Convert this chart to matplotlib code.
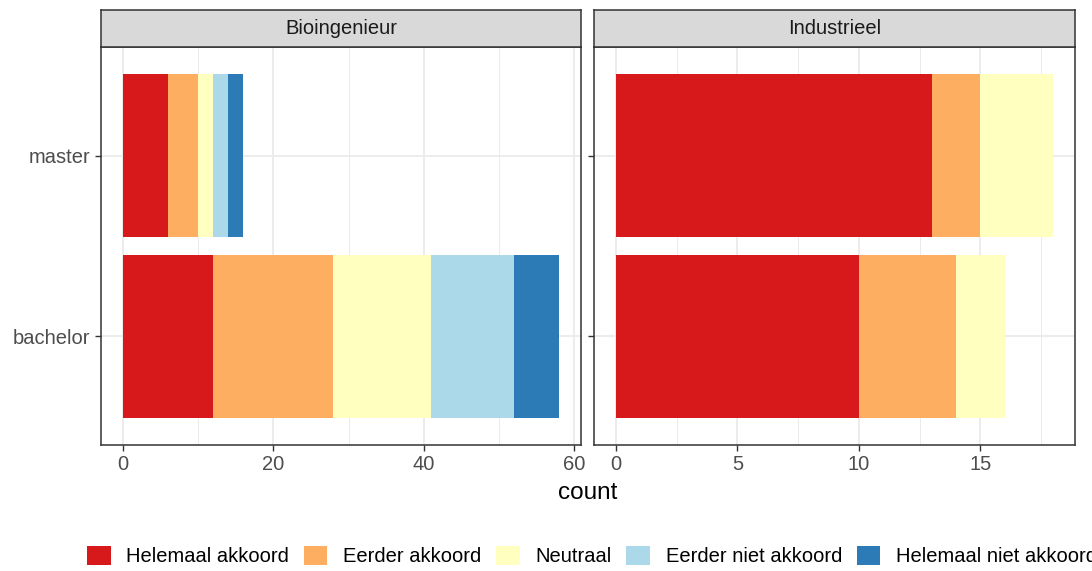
import numpy as np
import matplotlib.pyplot as plt
from matplotlib.patches import Patch

plt.rcParams['font.family'] = ['Liberation Sans', 'DejaVu Sans']

# data
levels = ['bachelor', 'master']
answers = ['Helemaal akkoord', 'Eerder akkoord', 'Neutraal',
           'Eerder niet akkoord', 'Helemaal niet akkoord']
colors = ['#D7191C', '#FDAE61', '#FFFFBF', '#ABD9E9', '#2C7BB6']

bio_bachelor = [12, 16, 13, 11, 6]
bio_master = [6, 4, 2, 2, 2]
ind_bachelor = [10, 4, 2, 0, 0]
ind_master = [13, 2, 3, 0, 0]

panels = [
    ('Bioingenieur', [bio_bachelor, bio_master], [0, 20, 40, 60], [10, 30, 50]),
    ('Industrieel', [ind_bachelor, ind_master], [0, 5, 10, 15], [2.5, 7.5, 12.5, 17.5]),
]

small = 14.5
fig = plt.figure(figsize=(10.92, 5.71), dpi=100)
W, H = 1092, 571

panel_px = [(101, 581), (594, 1075)]
top_px, bot_px, strip_top = 47, 445, 10

for (name, rows, ticks, minor), (x0, x1) in zip(panels, panel_px):
    ax = fig.add_axes([x0 / W, (H - bot_px) / H, (x1 - x0) / W, (bot_px - top_px) / H])
    data = np.array(rows, dtype=float)  # shape (levels, answers)
    left = np.zeros(len(levels))
    ypos = np.arange(len(levels)) + 1
    for j in range(len(answers)):
        ax.barh(ypos, data[:, j], left=left, height=0.9, color=colors[j],
                linewidth=0, zorder=3)
        left += data[:, j]
    xmax = data.sum(axis=1).max()
    ax.set_xlim(-0.05 * xmax, xmax * 1.05)
    ax.set_ylim(0.4, 2.6)
    ax.set_xticks(ticks)
    ax.set_xticks(minor, minor=True)
    ax.set_yticks(ypos)
    if name == 'Bioingenieur':
        ax.set_yticklabels(levels)
    else:
        ax.set_yticklabels([])
    ax.grid(True, which='major', color='#EBEBEB', linewidth=1.3, zorder=0)
    ax.grid(True, which='minor', axis='x', color='#EBEBEB', linewidth=0.7, zorder=0)
    ax.tick_params(which='major', length=4.5, width=1.0, color='#333333',
                   labelcolor='#4D4D4D', labelsize=small, pad=3)
    ax.tick_params(which='minor', length=0)
    for s in ax.spines.values():
        s.set_color('#333333')
        s.set_linewidth(1.1)

    # facet strip
    sax = fig.add_axes([x0 / W, (H - top_px) / H, (x1 - x0) / W, (top_px - strip_top) / H])
    sax.set_facecolor('#D9D9D9')
    sax.set_xticks([])
    sax.set_yticks([])
    for s in sax.spines.values():
        s.set_color('#333333')
        s.set_linewidth(1.1)
    sax.text(0.5, 0.5, name, ha='center', va='center', fontsize=small, color='#1A1A1A',
             transform=sax.transAxes)

fig.text(588 / W, 1 - 493 / H, 'count', ha='center', va='center', fontsize=17.5, color='black')

handles = [Patch(facecolor=c, edgecolor='none') for c in colors]
fig.legend(handles, answers, loc='center left', bbox_to_anchor=(87 / W, 1 - 556 / H),
           ncol=5, frameon=False, fontsize=small, handlelength=1.17, handleheight=1.13,
           handletextpad=0.78, columnspacing=0.73, borderpad=0, borderaxespad=0)

fig.savefig('out.png', dpi=100)
